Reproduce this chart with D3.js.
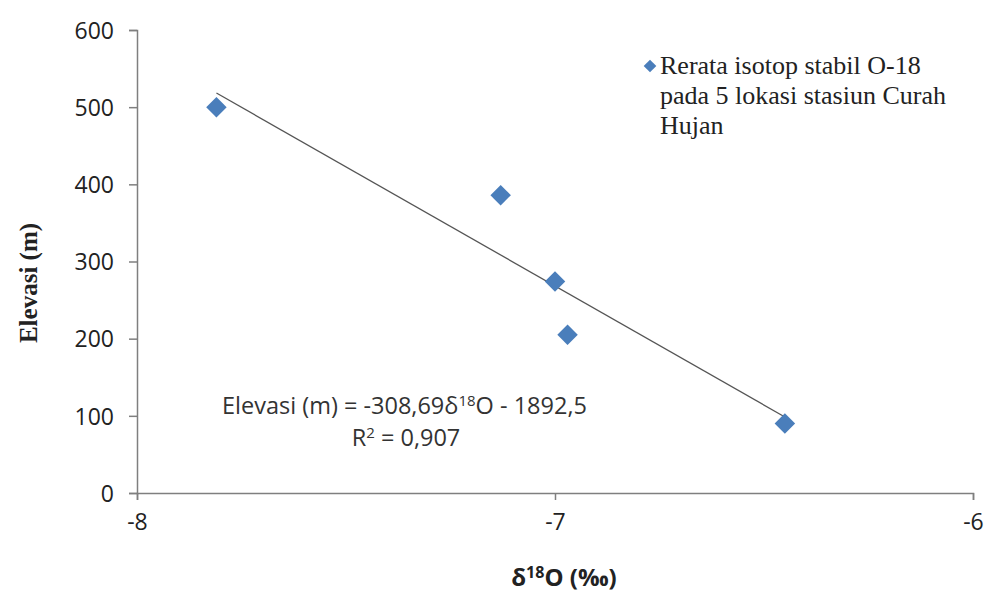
<!DOCTYPE html>
<html>
<head>
<meta charset="utf-8">
<title>Elevasi vs d18O</title>
<script src="https://cdn.jsdelivr.net/npm/d3@7"></script>
<style>
  body { margin: 0; background: #fff; }
</style>
</head>
<body>
<script>
// data
var xValues = [-7.81, -7.13, -7.00, -6.97, -6.45];   // d18O (permil)
var yValues = [500, 386, 274, 205, 90];               // Elevasi (m)
var xTicks = [-8, -7, -6];
var yTicks = [0, 100, 200, 300, 400, 500, 600];
// trendline coefficients as printed on the chart
var slope = -308.69;
var intercept = -1892.5;
var legendLines = ["Rerata isotop stabil O-18", "pada 5 lokasi stasiun Curah", "Hujan"];

var w = 992, h = 592;
var padL = 137, padR = 973, padT = 30, padB = 493;

var svg = d3.select("body").append("svg")
  .attr("width", w).attr("height", h);

var x = d3.scaleLinear().domain([-8, -6]).range([padL, padR]);
var y = d3.scaleLinear().domain([0, 600]).range([padB, padT]);

// axes
var yAxis = svg.append("g")
  .attr("transform", "translate(" + padL + ",0)")
  .call(d3.axisLeft(y).tickValues(yTicks).tickSize(8).tickPadding(15));
var xAxis = svg.append("g")
  .attr("transform", "translate(0," + padB + ")")
  .call(d3.axisBottom(x).tickValues(xTicks).tickSize(7).tickPadding(13)
        .tickFormat(function(d) { return d; }));

[xAxis, yAxis].forEach(function(g) {
  g.select(".domain").attr("stroke", "#7f7f7f").attr("stroke-width", 1.5);
  g.selectAll(".tick line").attr("stroke", "#7f7f7f").attr("stroke-width", 1.5);
  g.selectAll(".tick text")
    .attr("fill", "#222")
    .attr("font-family", "'Open Sans', sans-serif")
    .attr("font-size", "23px");
});
xAxis.selectAll(".tick text").attr("dy", "0.75em");
yAxis.selectAll(".tick text").attr("dy", "0.36em");

// trendline over the data range
var xmin = d3.min(xValues), xmax = d3.max(xValues);
svg.append("line")
  .attr("x1", x(xmin)).attr("y1", y(slope * xmin + intercept))
  .attr("x2", x(xmax)).attr("y2", y(slope * xmax + intercept))
  .attr("stroke", "#555").attr("stroke-width", 1.3);

// points
var diamond = d3.symbol().type(d3.symbolSquare).size(210);
svg.selectAll("path.pt")
  .data(xValues)
  .enter()
  .append("path")
  .attr("class", "pt")
  .attr("d", diamond)
  .attr("transform", function(d, i) {
    return "translate(" + x(d) + "," + y(yValues[i]) + ") rotate(45)";
  })
  .attr("fill", "#4a7ebb");

// legend
svg.append("path")
  .attr("d", d3.symbol().type(d3.symbolSquare).size(80))
  .attr("transform", "translate(650,66) rotate(45)")
  .attr("fill", "#4a7ebb");
svg.selectAll("text.leg")
  .data(legendLines)
  .enter()
  .append("text")
  .attr("class", "leg")
  .attr("x", 660)
  .attr("y", function(d, i) { return 74 + i * 30; })
  .attr("font-family", "'Liberation Serif', serif")
  .attr("font-size", "26px")
  .attr("fill", "#222")
  .text(function(d) { return d; });

// equation
var eq = svg.append("text")
  .attr("x", 222).attr("y", 414)
  .attr("font-family", "'Open Sans', sans-serif")
  .attr("font-size", "23.5px")
  .attr("fill", "#333");
eq.append("tspan").text("Elevasi (m) = -308,69δ");
eq.append("tspan").attr("dy", -8).attr("font-size", "15px").text("18");
eq.append("tspan").attr("dy", 8).text("O - 1892,5");

var r2 = svg.append("text")
  .attr("x", 406).attr("y", 446)
  .attr("text-anchor", "middle")
  .attr("font-family", "'Open Sans', sans-serif")
  .attr("font-size", "23.5px")
  .attr("fill", "#333");
r2.append("tspan").text("R");
r2.append("tspan").attr("dy", -8).attr("font-size", "15px").text("2");
r2.append("tspan").attr("dy", 8).text(" = 0,907");

// axis titles
svg.append("text")
  .attr("transform", "translate(37,283) rotate(-90)")
  .attr("text-anchor", "middle")
  .attr("font-family", "'Liberation Serif', serif")
  .attr("font-weight", "bold")
  .attr("font-size", "25px")
  .attr("fill", "#222")
  .text("Elevasi (m)");

var xt = svg.append("text")
  .attr("x", 564).attr("y", 586)
  .attr("text-anchor", "middle")
  .attr("font-family", "'Open Sans', sans-serif")
  .attr("font-weight", "bold")
  .attr("font-size", "24px")
  .attr("fill", "#222");
xt.append("tspan").text("δ");
xt.append("tspan").attr("dy", -8).attr("font-size", "16px").text("18");
xt.append("tspan").attr("dy", 8).text("O (‰)");
</script>
</body>
</html>
